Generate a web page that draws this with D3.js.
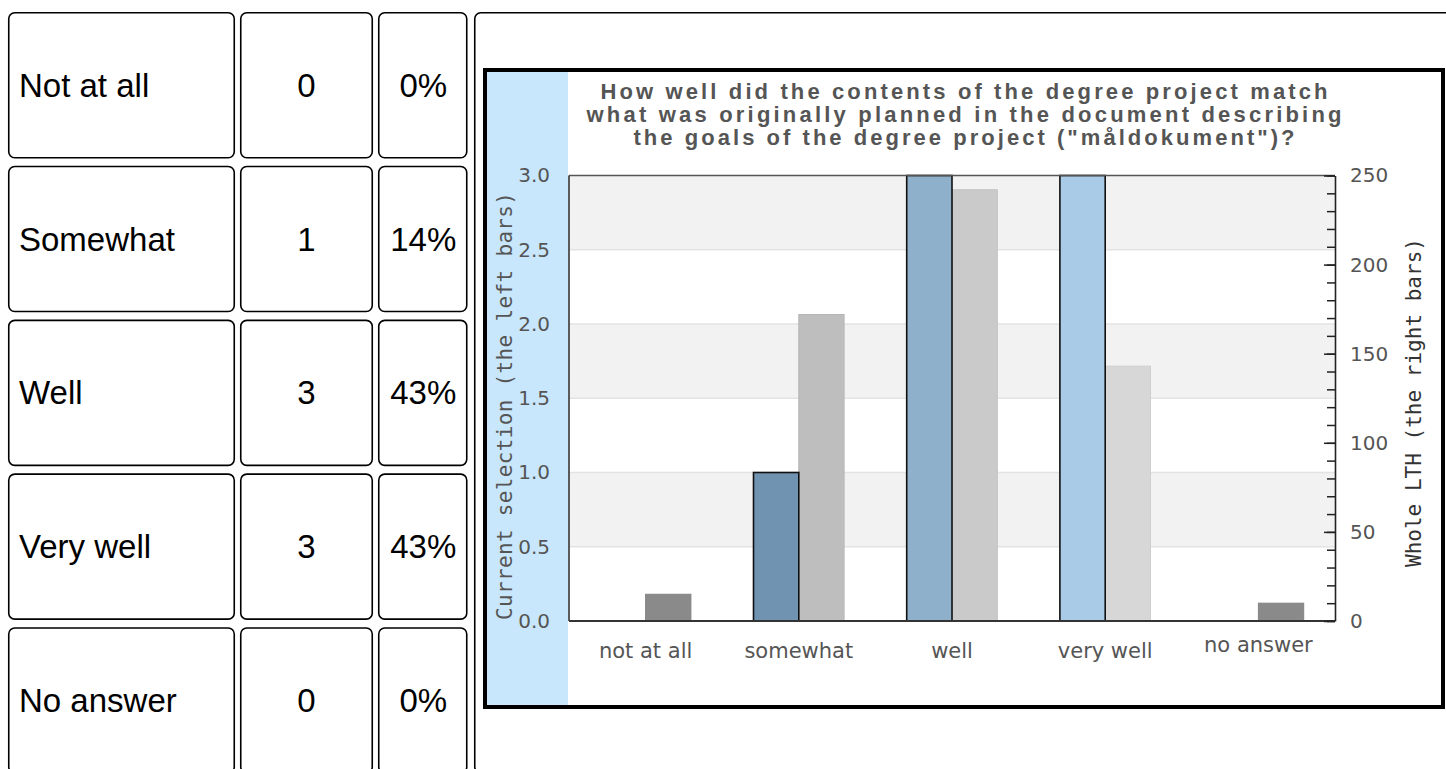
<!DOCTYPE html>
<html>
<head>
<meta charset="utf-8">
<script src="https://cdn.jsdelivr.net/npm/d3@7"></script>
<style>
  html, body { margin: 0; padding: 0; background: #fff; }
  svg { display: block; }
</style>
</head>
<body>
<svg id="chart" width="1446" height="769"></svg>
<script>
// ---- data ----
const categories = ["not at all", "somewhat", "well", "very well", "no answer"];
const tableLabels = ["Not at all", "Somewhat", "Well", "Very well", "No answer"];
const selectionCounts = [0, 1, 3, 3, 0];          // current selection (left bars)
const lthCounts = [15, 172, 242, 143, 10];         // whole LTH (right bars)
const leftTickValues = [0, 0.5, 1, 1.5, 2, 2.5, 3];
const rightTickValues = [0, 50, 100, 150, 200, 250];
const titleLines = [
  "How well did the contents of the degree project match",
  "what was originally planned in the document describing",
  "the goals of the degree project (\"måldokument\")?"
];
const leftAxisTitle = "Current selection (the left bars)";
const rightAxisTitle = "Whole LTH (the right bars)";

// ---- styles ----
const selColors = ["#6f93b0", "#6f93b0", "#8eb0cb", "#a9cbe7", "#6f93b0"];
const lthColors = ["#8a8a8a", "#bebebe", "#cacaca", "#d7d7d7", "#8a8a8a"];

const svg = d3.select("#chart");

// ---- table on the left ----
const total = d3.sum(selectionCounts);
const rowTop = i => 12 + i * 153.8;
const rowH = 146.5;
const cols = [{x: 8, w: 227}, {x: 240, w: 133}, {x: 378, w: 89.5}];
const tbl = svg.append("g");
tableLabels.forEach((lab, i) => {
  const y0 = rowTop(i);
  cols.forEach(c => {
    tbl.append("rect").attr("x", c.x + 0.75).attr("y", y0 + 0.75)
      .attr("width", c.w - 1.5).attr("height", rowH - 1.5)
      .attr("rx", 6).attr("fill", "none").attr("stroke", "#000").attr("stroke-width", 1.6);
  });
  const cy = y0 + rowH / 2 + 11.6;
  const tstyle = s => s.attr("font-family", "'Liberation Sans', Arial, Helvetica, sans-serif")
                       .attr("font-size", 33).attr("fill", "#000");
  tbl.append("text").call(tstyle).attr("x", 19).attr("y", cy).text(lab);
  tbl.append("text").call(tstyle).attr("x", cols[1].x + cols[1].w / 2).attr("y", cy)
     .attr("text-anchor", "middle").text(selectionCounts[i]);
  tbl.append("text").call(tstyle).attr("x", cols[2].x + cols[2].w / 2 + 0.5).attr("y", cy)
     .attr("text-anchor", "middle").text(Math.round(selectionCounts[i] / total * 100) + "%");
});
// big cell holding the chart
tbl.append("rect").attr("x", 474.75).attr("y", 12.75).attr("width", 1100).attr("height", 760)
   .attr("rx", 6).attr("fill", "none").attr("stroke", "#000").attr("stroke-width", 1.6);

// ---- chart image frame ----
const img = svg.append("g");
img.append("rect").attr("x", 485).attr("y", 70).attr("width", 958).attr("height", 637)
   .attr("fill", "#fff").attr("stroke", "#000").attr("stroke-width", 4);
img.append("rect").attr("x", 487).attr("y", 72).attr("width", 81).attr("height", 633)
   .attr("fill", "#c8e7fc");

// ---- scales ----
const plot = {left: 569, right: 1335, top: 175.5, bottom: 621};
const x = d3.scaleBand().domain(categories).range([plot.left, plot.right]);
const sub = d3.scaleBand().domain(["sel", "lth"]).range([0, x.bandwidth()]).paddingOuter(0.691);
const yL = d3.scaleLinear().domain([0, 3]).range([plot.bottom, plot.top]);
const yR = d3.scaleLinear().domain([0, 250]).range([plot.bottom, plot.top]);

// bands + gridlines
const bandPairs = [[0.5, 1], [1.5, 2], [2.5, 3]];
img.append("g").selectAll("rect").data(bandPairs).join("rect")
  .attr("x", plot.left).attr("width", plot.right - plot.left)
  .attr("y", d => yL(d[1])).attr("height", d => yL(d[0]) - yL(d[1]))
  .attr("fill", "#f2f2f2");
img.append("g").selectAll("line").data(leftTickValues.filter(v => v > 0 && v < 3)).join("line")
  .attr("x1", plot.left).attr("x2", plot.right)
  .attr("y1", d => yL(d)).attr("y2", d => yL(d))
  .attr("stroke", "#e3e3e3").attr("stroke-width", 1.5);

// right bars (whole LTH)
img.append("g").selectAll("rect").data(categories).join("rect")
  .attr("x", (d) => x(d) + sub("lth"))
  .attr("width", sub.bandwidth())
  .attr("y", (d, i) => yR(lthCounts[i]))
  .attr("height", (d, i) => yR(0) - yR(lthCounts[i]))
  .attr("fill", (d, i) => lthColors[i])
  .attr("stroke", (d, i) => d3.color(lthColors[i]).darker(0.12))
  .attr("stroke-width", 1);

// left bars (current selection)
img.append("g").selectAll("rect").data(categories.filter((d, i) => selectionCounts[i] > 0)).join("rect")
  .attr("x", d => x(d) + sub("sel"))
  .attr("width", sub.bandwidth())
  .attr("y", d => yL(selectionCounts[categories.indexOf(d)]))
  .attr("height", d => yL(0) - yL(selectionCounts[categories.indexOf(d)]))
  .attr("fill", d => selColors[categories.indexOf(d)])
  .attr("stroke", "#111").attr("stroke-width", 1.6);

// frame
img.append("line").attr("x1", plot.left).attr("x2", plot.right).attr("y1", plot.top).attr("y2", plot.top)
   .attr("stroke", "#555").attr("stroke-width", 1.6);
img.append("line").attr("x1", plot.left).attr("x2", plot.left).attr("y1", plot.top).attr("y2", plot.bottom)
   .attr("stroke", "#333").attr("stroke-width", 1.6);
img.append("line").attr("x1", plot.left).attr("x2", plot.right).attr("y1", plot.bottom).attr("y2", plot.bottom)
   .attr("stroke", "#333").attr("stroke-width", 1.8);

// left axis (labels only)
const axL = img.append("g").attr("transform", `translate(${plot.left},0)`)
  .call(d3.axisLeft(yL).tickValues(leftTickValues).tickFormat(d3.format(".1f")).tickSize(0).tickPadding(19));
axL.select(".domain").remove();
axL.selectAll("text").attr("font-family", "'DejaVu Sans', sans-serif").attr("font-size", 20).attr("fill", "#555");

// right axis: minor ticks
const axRm = img.append("g").attr("transform", `translate(${plot.right},0)`)
  .call(d3.axisRight(yR).tickValues(d3.range(0, 251, 10)).tickSize(-8).tickFormat(""));
axRm.select(".domain").remove();
axRm.selectAll("line").attr("stroke", "#222").attr("stroke-width", 1.5);
// right axis: major ticks + labels
const axR = img.append("g").attr("transform", `translate(${plot.right},0)`)
  .call(d3.axisRight(yR).tickValues(rightTickValues).tickSize(-11).tickSizeOuter(0).tickPadding(15));
axR.select(".domain").attr("stroke", "#222").attr("stroke-width", 1.6);
axR.selectAll("line").attr("stroke", "#222").attr("stroke-width", 1.5);
axR.selectAll("text").attr("font-family", "'DejaVu Sans', sans-serif").attr("font-size", 20).attr("fill", "#555");

// x axis labels
const axB = img.append("g").attr("transform", `translate(0,${plot.bottom})`)
  .call(d3.axisBottom(x).tickSize(0).tickPadding(22));
axB.select(".domain").remove();
axB.selectAll("text").attr("font-family", "'DejaVu Sans', sans-serif").attr("font-size", 21).attr("fill", "#555")
   .attr("y", d => d === "no answer" ? 16 : 22);

// axis titles (rotated, monospace)
img.append("text").attr("transform", `translate(512,406) rotate(-90)`)
  .attr("text-anchor", "middle").attr("font-family", "'DejaVu Sans Mono', monospace")
  .attr("font-size", 21).attr("fill", "#555")
  .attr("textLength", 428).attr("lengthAdjust", "spacing").text(leftAxisTitle);
img.append("text").attr("transform", `translate(1421,402.5) rotate(-90)`)
  .attr("text-anchor", "middle").attr("font-family", "'DejaVu Sans Mono', monospace")
  .attr("font-size", 21).attr("fill", "#333")
  .attr("textLength", 329).attr("lengthAdjust", "spacing").text(rightAxisTitle);

// title
const titleWidths = [727, 755, 661];
const titleBase = [99, 122, 145];
img.append("g").selectAll("text").data(titleLines).join("text")
  .attr("x", 964).attr("y", (d, i) => titleBase[i])
  .attr("text-anchor", "middle")
  .attr("font-family", "'Liberation Sans', Arial, sans-serif").attr("font-weight", "bold")
  .attr("font-size", 22).attr("fill", "#555")
  .attr("textLength", (d, i) => titleWidths[i]).attr("lengthAdjust", "spacing")
  .text(d => d);
</script>
</body>
</html>
